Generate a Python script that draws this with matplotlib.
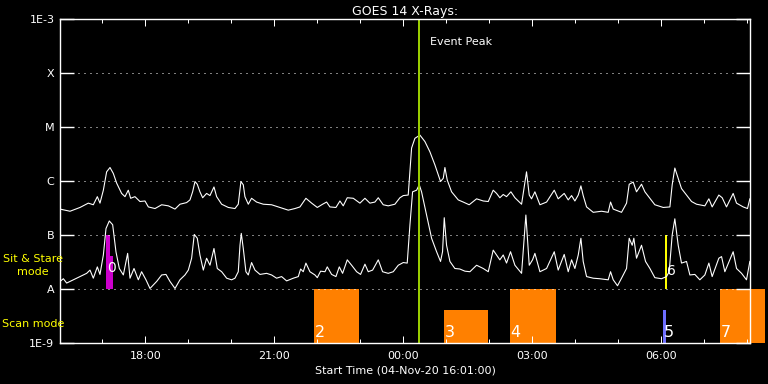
import numpy as np
import matplotlib
matplotlib.use("Agg")
import matplotlib.pyplot as plt
import matplotlib.dates as mdates
from matplotlib.ticker import NullLocator, FixedLocator

# ---------------- data ----------------
start = np.datetime64("2020-11-04T16:01")
end = np.datetime64("2020-11-05T08:04")

# long-wavelength channel (upper curve): minutes after start, log10 flux (W/m^2)
long_min = [0, 14.0, 27.9, 39.5, 46.5, 52.1, 55.8, 60.5, 65.1, 69.8, 74.4, 79.1, 86.0, 90.7,
            95.3, 98.6, 104.6, 111.6, 118.6, 123.3, 132.6, 141.9, 151.2, 160.5, 167.4, 176.7,
            181.4, 185.1, 188.4, 191.6, 195.3, 199.1, 204.6, 209.3, 214.9, 218.6, 225.6, 234.9,
            244.2, 248.8, 252.5, 255.8, 258.1, 262.8, 267.4, 274.4, 283.7, 295.3, 307.0, 318.6,
            327.9, 334.9, 343.2, 351.2, 359.1, 366.5, 372.1, 376.7, 385.1, 390.7, 395.3, 400.9,
            409.3, 418.6, 425.6, 432.5, 439.5, 444.2, 451.1, 458.1, 467.4, 474.4, 479.1, 486.0,
            490.7, 495.3, 502.3, 509.3, 516.3, 523.2, 531.1, 534.9, 537.2, 540.4, 546.5, 555.8,
            562.8, 571.1, 581.4, 590.7, 597.7, 604.6, 609.3, 613.9, 618.6, 623.2, 629.3, 634.9,
            644.2, 651.1, 654.9, 658.1, 662.8, 669.8, 679.1, 689.8, 695.3, 703.7, 709.3, 714.0,
            718.6, 723.3, 727.0, 730.2, 734.9, 744.2, 755.8, 765.1, 768.4, 772.1, 783.7, 790.7,
            794.4, 800.0, 804.6, 811.6, 816.3, 823.3, 830.2, 841.9, 851.2, 854.4, 858.1, 862.8,
            867.4, 874.4, 881.4, 888.4, 900.0, 905.6, 910.2, 919.5, 924.2, 930.2, 939.5, 944.2,
            953.5, 959.5, 962.8]
long_log = [-6.52, -6.56, -6.49, -6.41, -6.44, -6.29, -6.41, -6.17, -5.83, -5.75, -5.86, -6.04,
            -6.23, -6.29, -6.17, -6.32, -6.29, -6.38, -6.37, -6.48, -6.51, -6.44, -6.46, -6.52,
            -6.43, -6.40, -6.35, -6.20, -6.01, -6.06, -6.20, -6.31, -6.23, -6.27, -6.11, -6.29,
            -6.43, -6.49, -6.51, -6.43, -6.01, -6.07, -6.29, -6.43, -6.32, -6.39, -6.43, -6.44,
            -6.49, -6.54, -6.51, -6.48, -6.32, -6.41, -6.49, -6.43, -6.39, -6.48, -6.49, -6.37,
            -6.46, -6.31, -6.32, -6.41, -6.32, -6.41, -6.39, -6.31, -6.44, -6.46, -6.43, -6.31,
            -6.27, -6.26, -5.39, -5.21, -5.15, -5.27, -5.46, -5.70, -6.01, -5.95, -5.75, -5.98,
            -6.20, -6.35, -6.39, -6.44, -6.33, -6.37, -6.38, -6.17, -6.23, -6.31, -6.25, -6.29,
            -6.20, -6.31, -6.43, -5.83, -6.26, -6.33, -6.20, -6.44, -6.39, -6.17, -6.33, -6.23,
            -6.35, -6.27, -6.37, -6.26, -6.09, -6.27, -6.48, -6.58, -6.56, -6.58, -6.39, -6.52,
            -6.58, -6.41, -6.06, -6.02, -6.20, -6.06, -6.20, -6.32, -6.44, -6.49, -6.48, -6.07,
            -5.76, -5.95, -6.14, -6.26, -6.38, -6.43, -6.46, -6.33, -6.48, -6.26, -6.31, -6.48,
            -6.23, -6.41, -6.48, -6.51, -6.33]

# short-wavelength channel (lower curve)
short_min = [0, 4.7, 9.3, 18.6, 27.9, 37.2, 41.9, 46.5, 52.1, 55.8, 60.5, 64.2, 68.8, 73.5,
             78.1, 82.8, 88.4, 94.4, 97.7, 103.3, 109.3, 113.9, 120.0, 125.6, 134.9, 141.9,
             147.9, 153.5, 160.5, 167.4, 174.4, 179.1, 183.7, 187.4, 191.6, 195.3, 200.0, 204.6,
             209.3, 214.9, 219.5, 225.6, 232.6, 239.5, 244.2, 248.8, 251.2, 253.0, 255.8, 259.5,
             262.8, 267.4, 272.1, 279.1, 288.4, 295.3, 302.3, 309.3, 316.3, 325.6, 332.6, 335.8,
             339.5, 343.2, 348.8, 355.8, 359.1, 363.7, 369.8, 373.0, 379.1, 385.1, 389.8, 394.4,
             400.9, 407.0, 414.0, 419.5, 425.6, 430.2, 436.3, 444.2, 450.2, 458.1, 465.1, 472.1,
             479.1, 484.6, 488.4, 492.1, 497.7, 501.4, 504.6, 511.6, 518.6, 525.6, 531.1, 533.9,
             536.3, 539.5, 544.2, 551.1, 558.1, 565.1, 572.1, 581.4, 590.7, 597.7, 604.6, 609.3,
             613.9, 618.6, 623.2, 628.8, 634.9, 644.2, 650.2, 654.9, 659.5, 662.8, 669.8, 679.1,
             689.8, 695.3, 703.7, 709.3, 714.0, 718.6, 723.3, 727.0, 730.2, 734.9, 744.2, 753.5,
             765.1, 768.4, 772.1, 778.1, 783.7, 790.7, 794.4, 798.6, 800.9, 804.6, 811.6, 817.2,
             823.3, 830.2, 839.5, 846.5, 850.2, 854.4, 858.1, 862.8, 867.4, 874.4, 879.1, 886.0,
             893.0, 900.0, 905.6, 910.2, 919.5, 923.3, 927.9, 939.5, 944.2, 951.2, 958.1, 962.8]
short_log = [-7.86, -7.81, -7.89, -7.83, -7.77, -7.71, -7.65, -7.80, -7.59, -7.73, -7.37, -6.88,
             -6.74, -6.81, -7.31, -7.62, -7.74, -7.34, -7.80, -7.62, -7.83, -7.68, -7.83, -7.99,
             -7.86, -7.74, -7.73, -7.86, -7.99, -7.83, -7.74, -7.65, -7.43, -6.99, -7.06, -7.37,
             -7.65, -7.43, -7.56, -7.25, -7.62, -7.68, -7.80, -7.83, -7.80, -7.68, -7.19, -6.97,
             -7.25, -7.68, -7.74, -7.51, -7.65, -7.73, -7.71, -7.74, -7.80, -7.77, -7.85, -7.80,
             -7.77, -7.63, -7.68, -7.52, -7.68, -7.74, -7.79, -7.67, -7.68, -7.59, -7.73, -7.77,
             -7.59, -7.71, -7.46, -7.56, -7.68, -7.73, -7.54, -7.68, -7.65, -7.46, -7.68, -7.71,
             -7.68, -7.56, -7.51, -7.52, -6.81, -6.20, -6.17, -6.07, -6.20, -6.63, -7.06, -7.31,
             -7.49, -7.31, -6.68, -7.19, -7.49, -7.62, -7.63, -7.67, -7.68, -7.56, -7.62, -7.68,
             -7.28, -7.37, -7.46, -7.37, -7.52, -7.31, -7.56, -7.71, -6.63, -7.56, -7.46, -7.34,
             -7.68, -7.62, -7.31, -7.65, -7.36, -7.68, -7.46, -7.62, -7.37, -7.06, -7.49, -7.77,
             -7.80, -7.81, -7.83, -7.68, -7.83, -7.94, -7.80, -7.62, -7.06, -7.19, -7.06, -7.43,
             -7.19, -7.49, -7.62, -7.79, -7.81, -7.77, -7.68, -7.00, -6.70, -7.19, -7.52, -7.49,
             -7.74, -7.73, -7.83, -7.74, -7.52, -7.77, -7.43, -7.40, -7.68, -7.31, -7.62, -7.71,
             -7.83, -7.49]

event_peak_min = 501.3

# scan-mode observations: label, start/end minutes, top flux, colour
scan_labels = ["2", "3", "4", "5", "7"]
scan_start = [354.4, 535.8, 627.9, 841.4, 920.9]
scan_end = [416.8, 597.2, 692.1, 845.6, 983.3]
scan_top = [1e-8, 4.1e-9, 1e-8, 4.1e-9, 1e-8]
scan_colors = ["#ff8000", "#ff8000", "#ff8000", "#6f6fff", "#ff8000"]

# sit & stare observations
ss_labels = ["0", "6"]
ss_start = [64.2, 845.0]
ss_end = [69.8, 846.6]
ss_colors = ["#cc00cc", "#ffff00"]
ss_extra_start, ss_extra_end, ss_extra_top = 64.2, 74.0, 4e-8

ytick_vals = [1e-9, 1e-8, 1e-7, 1e-6, 1e-5, 1e-4, 1e-3]
ytick_labels = ["1E-9", "A", "B", "C", "M", "X", "1E-3"]


def to_time(m):
    return start + (np.asarray(m, dtype=float) * 60).astype("timedelta64[s]")


def to_days(m):
    return np.asarray(m, dtype=float) / 1440.0


# ---------------- figure ----------------
plt.rcParams["font.family"] = ["DejaVu Sans"]
fig = plt.figure(figsize=(7.68, 3.84), dpi=100, facecolor="black")
ax = fig.add_axes([60 / 768, 41 / 384, 690 / 768, 324 / 384], facecolor="black")
ax.set_yscale("log")
ax.set_ylim(1e-9, 1e-3)
ax.set_xlim(start, end)

px = 72 / 100.0  # one pixel in points

# scan-mode bars
for lab, s, e, top, c in zip(scan_labels, scan_start, scan_end, scan_top, scan_colors):
    ax.bar(to_time(s), top - 1e-9, width=to_days(e - s), bottom=1e-9, align="edge",
           color=c, linewidth=0, zorder=1, clip_on=False)
    ax.text(to_time(s + 1.0), 1.12e-9, lab, color="white", fontsize=11.5,
            ha="left", va="bottom", zorder=5)

# sit & stare bars
ax.bar(to_time(ss_start[0]), 1e-7 - 1e-8, width=to_days(ss_end[0] - ss_start[0]), bottom=1e-8,
       align="edge", color=ss_colors[0], linewidth=0, zorder=1)
ax.bar(to_time(ss_extra_start), ss_extra_top - 1e-8, width=to_days(ss_extra_end - ss_extra_start),
       bottom=1e-8, align="edge", color=ss_colors[0], linewidth=0, zorder=1)
ax.bar(to_time(ss_start[1]), 1e-7 - 1e-8, width=to_days(ss_end[1] - ss_start[1]), bottom=1e-8,
       align="edge", color=ss_colors[1], linewidth=0, zorder=1)
ax.text(to_time(ss_start[0] + 1.0), 1.8e-8, ss_labels[0], color="white", fontsize=10,
        ha="left", va="bottom", zorder=5)
ax.text(to_time(ss_start[1] + 2.0), 1.6e-8, ss_labels[1], color="white", fontsize=10,
        ha="left", va="bottom", zorder=5)

# light curves
ax.plot(to_time(long_min), 10 ** np.asarray(long_log), color="white", lw=1.1 * px, zorder=3)
ax.plot(to_time(short_min), 10 ** np.asarray(short_log), color="white", lw=1.1 * px, zorder=3)

# event peak
ax.axvline(to_time(event_peak_min), color="#99cc00", lw=2 * px, zorder=4)
ax.text(to_time(event_peak_min + 15), 10 ** -3.42, "Event Peak", color="white", fontsize=8,
        ha="left", va="center")

# grid
for v in ytick_vals[1:-1]:
    ax.axhline(v, color="white", lw=px, linestyle=(0, (1, 5)), zorder=2)

# axes styling
for sp in ax.spines.values():
    sp.set_color("white")
    sp.set_linewidth(1.4 * px)
    sp.set_zorder(6)

ax.yaxis.set_major_locator(FixedLocator(ytick_vals))
ax.yaxis.set_minor_locator(NullLocator())
ax.set_yticklabels(ytick_labels)
ax.xaxis.set_major_locator(mdates.HourLocator(byhour=range(0, 24, 3)))
ax.xaxis.set_minor_locator(mdates.HourLocator())
ax.xaxis.set_major_formatter(mdates.DateFormatter("%H:%M"))

ax.tick_params(axis="y", which="major", direction="in", length=14 * px, width=1.4 * px,
               colors="white", labelsize=8, left=True, right=True, pad=4)
ax.tick_params(axis="x", which="major", direction="in", length=7 * px, width=px,
               colors="white", labelsize=8, top=True, bottom=True, pad=6)
ax.tick_params(axis="x", which="minor", direction="in", length=4 * px, width=px,
               colors="white", top=True, bottom=True)

ax.set_title("GOES 14 X-Rays:", color="white", fontsize=9, pad=3)
ax.set_xlabel("Start Time (04-Nov-20 16:01:00)", color="white", fontsize=8, labelpad=3)

# mode labels
fig.text(33 / 768, 1 - 259 / 384, "Sit & Stare", color="yellow", fontsize=8, ha="center", va="center")
fig.text(33 / 768, 1 - 272 / 384, "mode", color="yellow", fontsize=8, ha="center", va="center")
fig.text(2 / 768, 1 - 324 / 384, "Scan mode", color="yellow", fontsize=8, ha="left", va="center")

fig.savefig("out.png", dpi=100, facecolor="black")
